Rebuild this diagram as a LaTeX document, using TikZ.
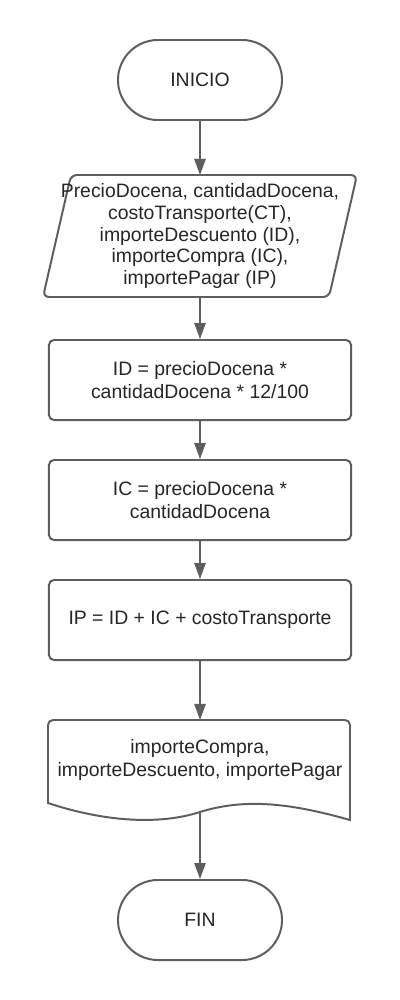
\documentclass[tikz,border=0pt]{standalone}
\usepackage{fontspec}
\setmainfont{Liberation Sans}
\usepackage{xcolor}
\usetikzlibrary{arrows.meta}
\definecolor{lineagris}{HTML}{5E5E5E}
\definecolor{textogris}{HTML}{262626}

\begin{document}
\begin{tikzpicture}[x=0.025cm,y=-0.025cm,line width=1.4pt,
	every node/.style={text=textogris,font=\fontsize{13.8}{16.4}\selectfont},
	terminal/.style={draw=lineagris,rounded corners=1cm,minimum width=4.1cm,minimum height=2cm},
	proceso/.style={draw=lineagris,rounded corners=0.125cm,minimum width=7.55cm,minimum height=2cm,align=center},
	flecha/.style={draw=lineagris,-{Triangle[length=0.4cm,width=0.28cm]}}]
	\fill[white] (0,0) rectangle (400,1000);
	\useasboundingbox (0,0) rectangle (400,1000);
	\node[terminal] (inicio) at (200,80) {INICIO};
	\draw[lineagris,rounded corners=0.15cm] (71,175)--(357,175)--(329,297)--(43,297)--cycle;
	\node[minimum height=3.05cm,outer sep=0pt,align=center,font=\fontsize{13.8}{15.4}\selectfont] (entrada) at (200,236)
		{PrecioDocena, cantidadDocena,\\costoTransporte(CT),\\importeDescuento (ID),\\importeCompra (IC),\\importePagar (IP)};
	\node[proceso] (calcid) at (200,380) {ID = precioDocena *\\cantidadDocena * 12/100};
	\node[proceso] (calcic) at (200,500) {IC = precioDocena *\\cantidadDocena};
	\node[proceso] (calcip) at (200,620) {IP = ID + IC + costoTransporte};
	\draw[lineagris] (48,803) [rounded corners=0.125cm]--(48,720)--(350,720) [sharp corners]--(350,820)
		.. controls (290,803) and (245,798) .. (200,812) .. controls (160,825) and (105,822) .. (48,803)--cycle;
	\node[minimum height=2cm,outer sep=0pt,align=center] (salida) at (200,760) {importeCompra,\\importeDescuento, importePagar};
	\coordinate (salidab) at (200,813);
	\node[terminal] (fin) at (200,920) {FIN};
	\draw[flecha] (inicio)--(entrada);
	\draw[flecha] (entrada)--(calcid);
	\draw[flecha] (calcid)--(calcic);
	\draw[flecha] (calcic)--(calcip);
	\draw[flecha] (calcip)--(salida);
	\draw[flecha] (salidab)--(fin);
\end{tikzpicture}
\end{document}
